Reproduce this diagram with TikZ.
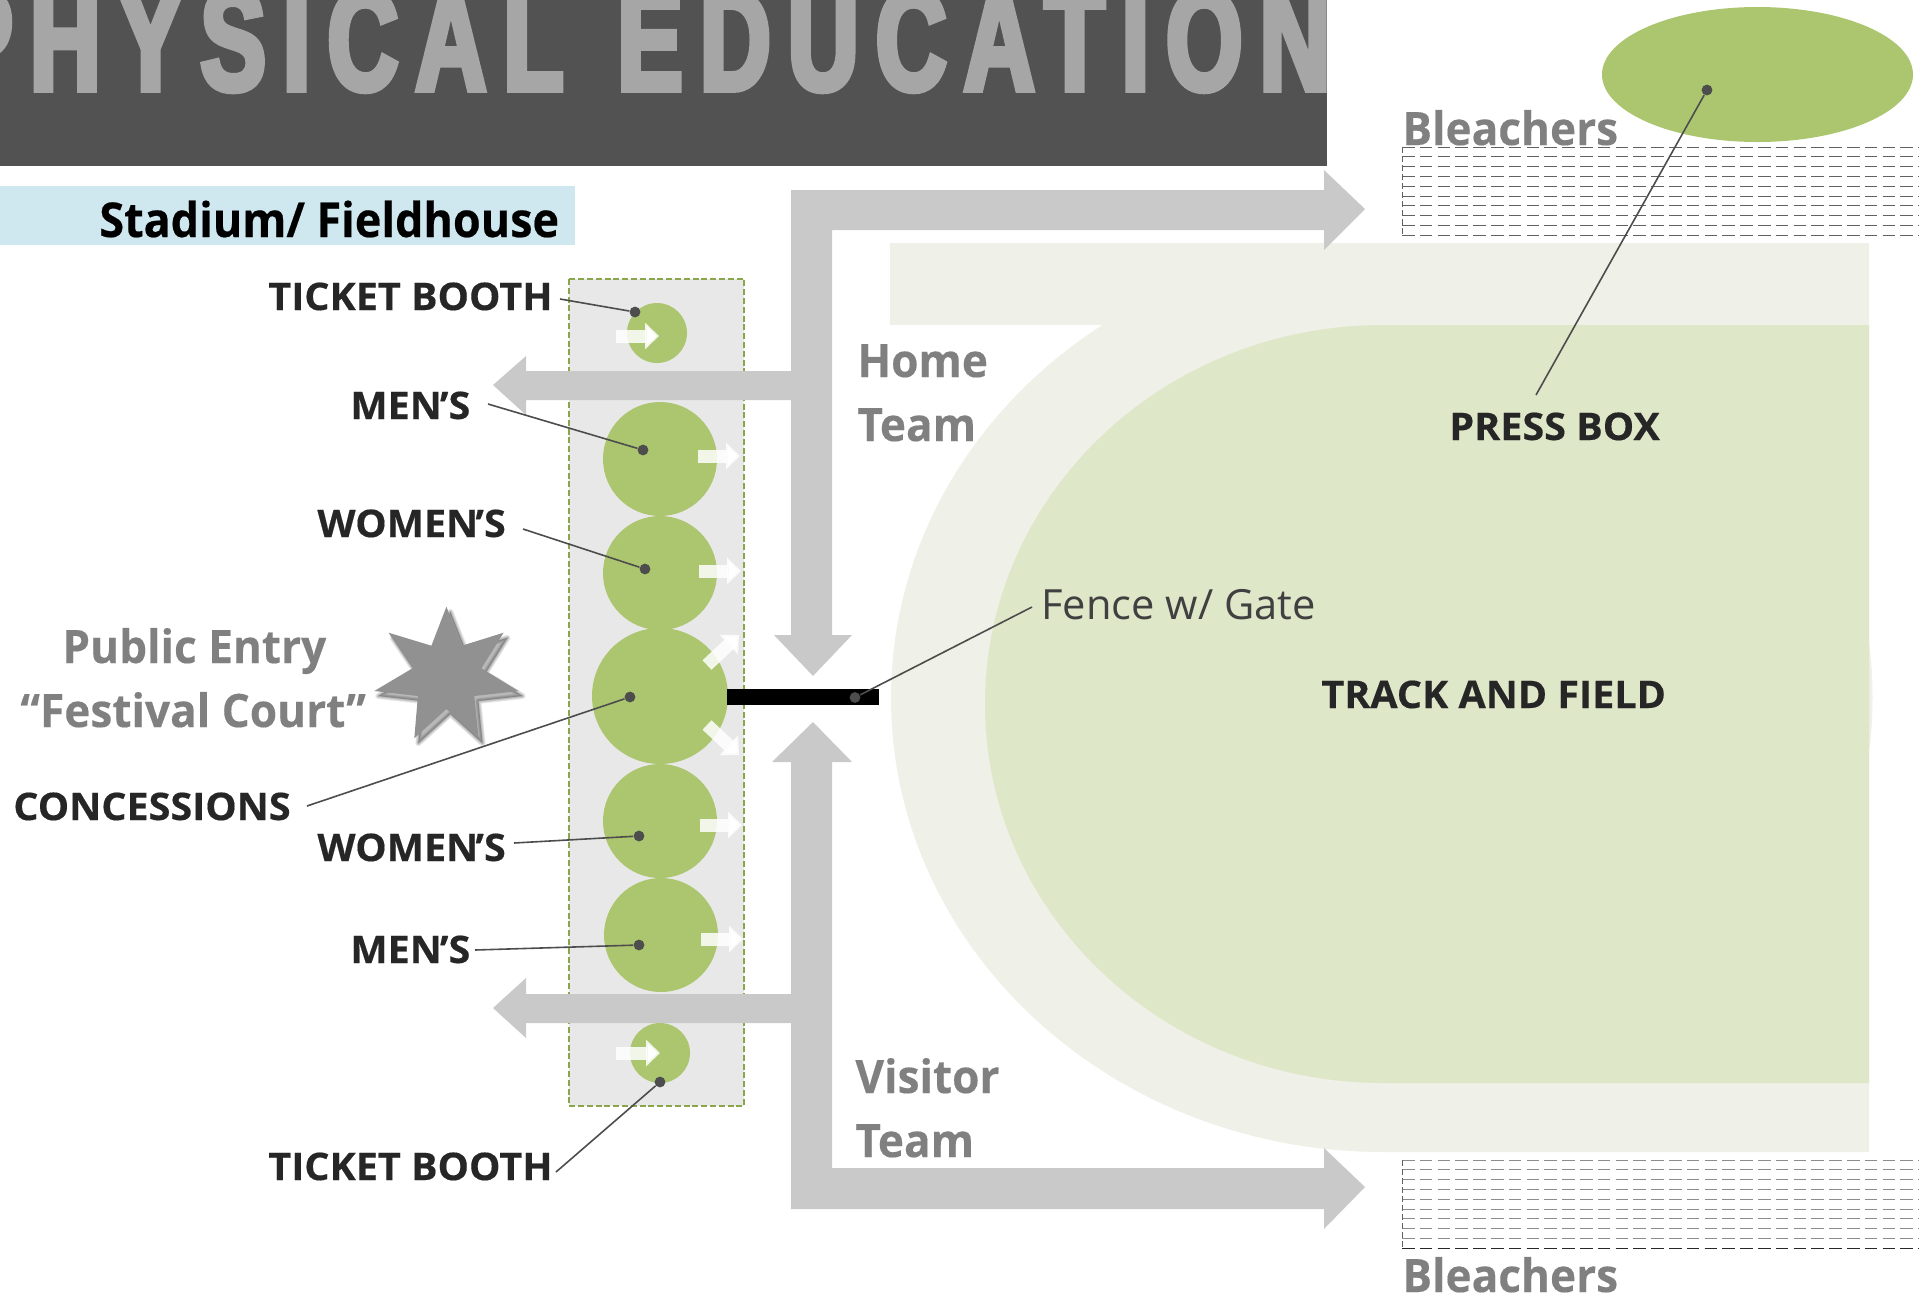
\documentclass[tikz,border=0pt]{standalone}
\usepackage{fontspec}
\setmainfont{Open Sans}
\newfontfamily\titlefont[FakeStretch=0.68,LetterSpace=12,FakeBold=4]{Liberation Sans}
\newfontfamily\darkfont[FakeStretch=1.04,FakeBold=0.4]{Open Sans}
\newfontfamily\grayfont[FakeStretch=0.96,FakeBold=0.3]{Open Sans}
\newfontfamily\stadiumfont[FakeStretch=0.935,FakeBold=0.4]{Open Sans}
\usetikzlibrary{arrows.meta,shapes.geometric}
\definecolor{bandgray}{HTML}{525252}
\definecolor{titlegray}{HTML}{A6A6A6}
\definecolor{roadgray}{HTML}{C9C9C9}
\definecolor{boothgreen}{HTML}{ACC670}
\definecolor{fieldgreen}{HTML}{DFE7C9}
\definecolor{trackcream}{HTML}{EFF0E7}
\definecolor{stripblue}{HTML}{CFE7EF}
\definecolor{leadgray}{HTML}{4D4D4D}
\definecolor{dashgreen}{HTML}{8AA54A}
\tikzset{
    booth/.style={circle,fill=boothgreen,inner sep=0pt},
    leaddot/.style={circle,fill=leadgray,inner sep=0pt,minimum size=5.4pt},
    leader/.style={draw=leadgray,line width=0.8pt},
    flow/.style={draw=white,draw opacity=0.85,line width=6.5pt,-{Triangle[length=7pt,width=13pt]}},
    darklabel/.style={anchor=base west,inner sep=0pt,text=black!85,font=\darkfont\bfseries\fontsize{19}{21}\selectfont},
    graylabel/.style={anchor=base west,inner sep=0pt,text=black!50,font=\grayfont\bfseries\fontsize{23}{26}\selectfont},
    benchline/.style={draw=black!62,line width=0.5pt,dash pattern=on 6.3pt off 2.6pt}
}
\newcommand{\sevenstar}{(446.4,606.7) -- (461.8,645.7) -- (503.6,632.7) -- (481.4,668.3) -- (518.6,691) -- (474.3,696) -- (478.6,738.3) -- (446.4,709) -- (414.3,738.3) -- (417.9,696) -- (374.3,691) -- (412.5,668.3) -- (388.6,632.7) -- (431.4,645.7) -- cycle}
\begin{document}
\begin{tikzpicture}[x=0.5pt,y=-0.5pt]
    \useasboundingbox (0,0) rectangle (1919,1298);

    % title band
    \fill[bandgray] (0,0) rectangle (1327,166);
    \begin{scope}
        \clip (0,0) rectangle (1327,166);
        \node[anchor=base west,inner sep=0pt,text=titlegray] (title) at (-53,90) {\titlefont\bfseries\fontsize{72}{78}\selectfont PHYSICAL\hspace{27pt}EDUCATION};
    \end{scope}
    \fill[stripblue] (0,186) rectangle (575,245);
    \node[anchor=base west,inner sep=0pt,text=black] (stadium) at (99,237) {\stadiumfont\bfseries\fontsize{24}{26}\selectfont Stadium/ Fieldhouse};

    % track and field
    \fill[trackcream] (890,243) rectangle (1869,325);
    \fill[trackcream] (1869,244) -- (1383,244) arc (-90:-270:492 and 454) -- (1869,1152) -- cycle;
    \fill[trackcream] (1868,637) .. controls (1874,670) and (1874,725) .. (1868,757) -- cycle;
    \fill[fieldgreen] (1869,325) -- (1383,325) arc (-90:-270:398 and 379) -- (1869,1083) -- cycle;

    % bleachers
    \foreach \y in {0,...,9} {
        \draw[benchline] (1402,147+9.8*\y) -- (1919,147+9.8*\y);
        \draw[benchline,draw=black!45] (1402,1160+9.8*\y) -- (1919,1160+9.8*\y);
    }
    \draw[benchline,draw=black!85] (1402,1248) -- (1919,1248);
    \draw[benchline,dash pattern=on 3pt off 1.5pt] (1402,147) -- (1402,235);
    \draw[benchline,dash pattern=on 3pt off 1.5pt] (1402,1160) -- (1402,1248);

    % concourse
    \draw[fill=black!9,draw=dashgreen,line width=1pt,dash pattern=on 3pt off 1.4pt] (569,279) rectangle (744,1106);

    % circulation
    \fill[roadgray] (791,190) -- (1324,190) -- (1324,170) -- (1365,209) -- (1324,250) -- (1324,230) -- (832,230) -- (832,635) -- (852,635) -- (813,676) -- (774,635) -- (791,635) -- cycle;
    \fill[roadgray] (791,1209) -- (1324,1209) -- (1324,1229) -- (1365,1187) -- (1324,1148) -- (1324,1168) -- (832,1168) -- (832,762) -- (852,762) -- (813,722) -- (772,762) -- (791,762) -- cycle;
    \fill[roadgray] (791,371) -- (526,371) -- (526,356) -- (493,385) -- (526,415) -- (526,400) -- (791,400) -- cycle;
    \fill[roadgray] (791,994) -- (526,994) -- (526,978) -- (493,1008) -- (526,1038) -- (526,1023) -- (791,1023) -- cycle;

    % star
    \foreach \w in {6,4.5,3,1.5} {
        \draw[black,opacity=0.08,line width=\w*0.5pt,fill=black,line join=round,shift={(4,5)}] \sevenstar;
    }
    \fill[black!43] \sevenstar;

    % booths
    \node[booth,minimum size=30pt] (booth1) at (657,333) {};
    \node[booth,minimum size=57pt] (mens1) at (660,459) {};
    \node[booth,minimum size=57pt] (womens1) at (660,573) {};
    \node[booth,minimum size=68pt] (food) at (660,696) {};
    \node[booth,minimum size=57pt] (womens2) at (660,821) {};
    \node[booth,minimum size=57pt] (mens2) at (661,935) {};
    \node[booth,minimum size=30pt] (booth2) at (660,1053) {};

    \draw[flow] (616,336) -- (659,336);
    \draw[flow] (698,456) -- (740,456);
    \draw[flow] (699,571) -- (741,571);
    \draw[flow] (707,665) -- (739,635);
    \draw[flow] (707,725) -- (739,755);
    \draw[flow] (700,825) -- (742,825);
    \draw[flow] (701,939) -- (743,939);
    \draw[flow] (616,1053) -- (660,1053);

    % gate
    \fill[black] (727,689) rectangle (879,705);

    % press box
    \node[ellipse,fill=boothgreen,inner sep=0pt,minimum width=155.5pt,minimum height=67.5pt] (press) at (1757.5,74.5) {};

    % labels
    \node[darklabel] (lblBooth1) at (268,310) {TICKET BOOTH};
    \node[darklabel] (lblMens1) at (350,419) {MEN\kern-1pt’S};
    \node[darklabel] (lblWomens1) at (317,537) {WOMEN\kern-1.4pt’S};
    \node[darklabel] (lblFood) at (13,820) {CONCESSIONS};
    \node[darklabel] (lblWomens2) at (317,861) {WOMEN\kern-1.4pt’S};
    \node[darklabel] (lblMens2) at (350,963) {MEN\kern-1pt’S};
    \node[darklabel] (lblBooth2) at (268,1180) {TICKET BOOTH};
    \node[darklabel] (lblPress) at (1449,440) {PRESS BOX};
    \node[darklabel] (lblTrack) at (1321,708) {TRACK AND FIELD};
    \node[anchor=base west,inner sep=0pt,text=black!75,font=\fontsize{20.8}{24}\selectfont] (lblFence) at (1041,619) {Fence w/ Gate};
    \node[graylabel] (lblEntry1) at (62,663) {Public Entry};
    \node[graylabel] (lblEntry2) at (20,727) {“Festival Court”};
    \node[graylabel] (lblHome) at (857,377) {Home};
    \node[graylabel] (lblTeam1) at (857,441) {Team};
    \node[graylabel] (lblVisitor) at (855,1093) {Visitor};
    \node[graylabel] (lblTeam2) at (855,1157) {Team};
    \node[graylabel] (lblBleach1) at (1402,145) {Bleachers};
    \node[graylabel] (lblBleach2) at (1402,1292) {Bleachers};

    % leaders
    \node[leaddot] (dBooth1) at (635,312) {};
    \node[leaddot] (dMens1) at (643,450) {};
    \node[leaddot] (dWomens1) at (645,569) {};
    \node[leaddot] (dFood) at (630,697) {};
    \node[leaddot] (dWomens2) at (639,836) {};
    \node[leaddot] (dMens2) at (639,945) {};
    \node[leaddot] (dBooth2) at (660,1082) {};
    \node[leaddot] (dFence) at (855,697.5) {};
    \node[leaddot] (dPress) at (1707,90) {};
    \coordinate (cBooth1) at (560,299);
    \coordinate (cMens1) at (488,404);
    \coordinate (cWomens1) at (523,529);
    \coordinate (cFood) at (307,806);
    \coordinate (cWomens2) at (514,843);
    \coordinate (cMens2) at (475,950);
    \coordinate (cBooth2) at (556,1172);
    \coordinate (cFence) at (1032,607);
    \coordinate (cPress) at (1536,395);
    \path[leader] (cBooth1) edge (dBooth1);
    \path[leader] (cMens1) edge (dMens1);
    \path[leader] (cWomens1) edge (dWomens1);
    \path[leader] (cFood) edge (dFood);
    \path[leader] (cWomens2) edge (dWomens2);
    \path[leader] (cMens2) edge (dMens2);
    \path[leader] (cBooth2) edge (dBooth2);
    \path[leader] (cFence) edge (dFence);
    \path[leader] (cPress) edge (dPress);
\end{tikzpicture}
\end{document}
